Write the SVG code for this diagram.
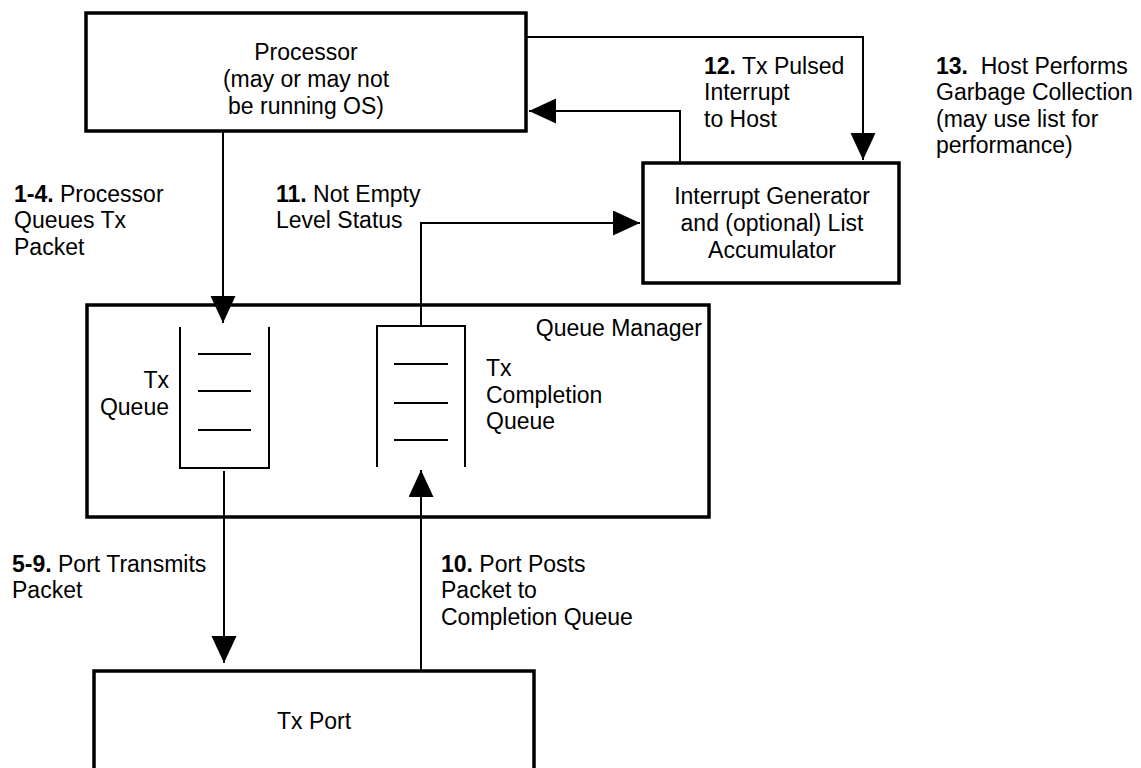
<svg xmlns="http://www.w3.org/2000/svg" width="1141" height="768" viewBox="0 0 1141 768">
<style>
text{font-family:"Liberation Sans",Arial,sans-serif;font-size:23px;fill:#000}
.b{font-weight:bold}
.box{fill:#fff;stroke:#000;stroke-width:3.5}
.q{fill:none;stroke:#000;stroke-width:2}
.c{fill:none;stroke:#000;stroke-width:2;marker-end:url(#ah)}
.m{text-anchor:middle}
.e{text-anchor:end}
</style>
<defs>
<marker id="ah" markerUnits="userSpaceOnUse" markerWidth="28" markerHeight="26" refX="27" refY="12.5" orient="auto" viewBox="0 0 28 26">
<path d="M0,0 L27,12.5 L0,25 z" fill="#000"/>
</marker>
</defs>
<rect width="1141" height="768" fill="#fff"/>
<g id="processor">
<rect class="box" x="86" y="13" width="440" height="118"/>
<text class="m" x="306" y="60">Processor</text>
<text class="m" x="306" y="87">(may or may not</text>
<text class="m" x="306" y="114">be running OS)</text>
</g>
<g id="interrupt-generator">
<rect class="box" x="643" y="163" width="256" height="120"/>
<text class="m" x="772" y="204">Interrupt Generator</text>
<text class="m" x="772" y="231">and (optional) List</text>
<text class="m" x="772" y="258">Accumulator</text>
</g>
<g id="queue-manager">
<rect class="box" x="87" y="305" width="622" height="212"/>
<text class="e" x="702" y="336">Queue Manager</text>
</g>
<g id="tx-queue">
<path class="q" d="M180,327 V468 H269 V327"/>
<path class="q" d="M198,354 H251 M198,391 H251 M198,430 H251"/>
<text class="e" x="169" y="388">Tx</text>
<text class="e" x="169" y="415">Queue</text>
</g>
<g id="tx-completion-queue">
<path class="q" d="M377,467 V326 H465 V467"/>
<path class="q" d="M394,364 H448 M394,403 H448 M394,440 H448"/>
<text x="486" y="376">Tx</text>
<text x="486" y="403">Completion</text>
<text x="486" y="429">Queue</text>
</g>
<g id="tx-port">
<rect class="box" x="94" y="671" width="440" height="140"/>
<text class="m" x="314" y="729">Tx Port</text>
</g>
<g id="connectors">
<path class="c" d="M223,131 V323"/>
<path class="c" d="M421,326 V223 H640"/>
<path class="c" d="M526,37 H863 V160"/>
<path class="c" d="M680,163 V111 H529"/>
<path class="c" d="M224,471 V663"/>
<path class="c" d="M421,671 V470"/>
</g>
<g id="labels">
<text x="14" y="202"><tspan class="b">1-4.</tspan> Processor</text>
<text x="14" y="228">Queues Tx</text>
<text x="14" y="255">Packet</text>
<text x="276" y="202"><tspan class="b">11.</tspan> Not Empty</text>
<text x="276" y="228">Level Status</text>
<text x="704" y="74"><tspan class="b">12.</tspan> Tx Pulsed</text>
<text x="704" y="100">Interrupt</text>
<text x="704" y="127">to Host</text>
<text x="936" y="74"><tspan class="b">13.</tspan>&#160; Host Performs</text>
<text x="936" y="100">Garbage Collection</text>
<text x="936" y="127">(may use list for</text>
<text x="936" y="153">performance)</text>
<text x="12" y="572"><tspan class="b">5-9.</tspan> Port Transmits</text>
<text x="12" y="598">Packet</text>
<text x="441" y="572"><tspan class="b">10.</tspan> Port Posts</text>
<text x="441" y="598">Packet to</text>
<text x="441" y="625">Completion Queue</text>
</g>
</svg>
